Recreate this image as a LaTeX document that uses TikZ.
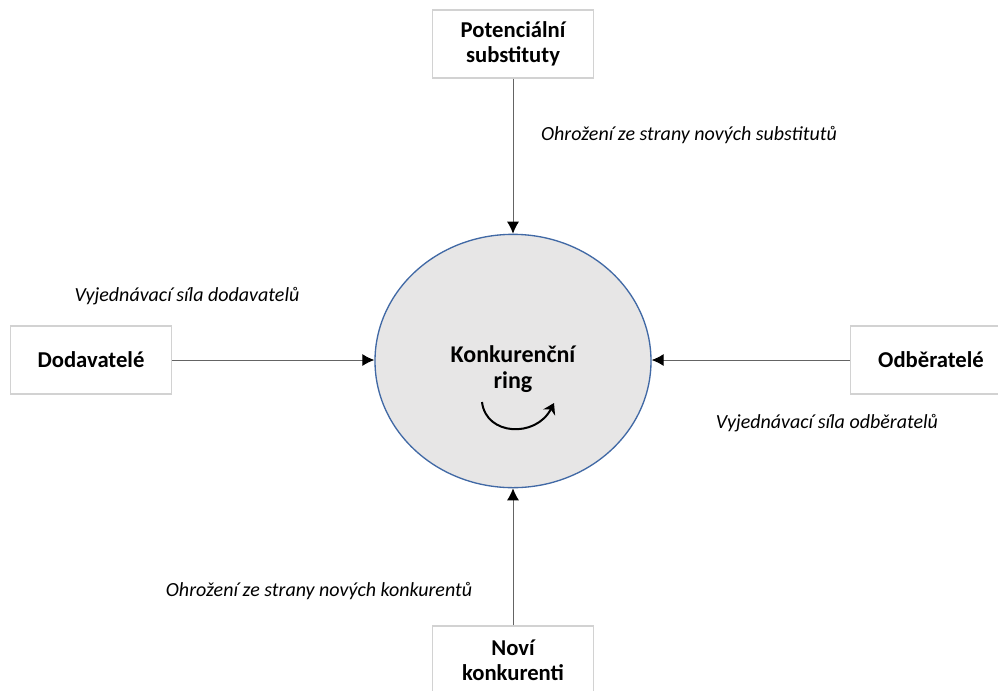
\documentclass[tikz,border=0pt]{standalone}
\usepackage{fontspec}
\setmainfont{Carlito}
\usetikzlibrary{arrows.meta,shapes.geometric}

\definecolor{boxline}{RGB}{210,210,210}
\definecolor{ringfill}{RGB}{231,230,230}
\definecolor{ringline}{RGB}{65,105,165}
\definecolor{connline}{RGB}{100,100,100}

\begin{document}
\begin{tikzpicture}[x=0.75pt,y=-0.75pt,
        force/.style={draw=boxline, fill=white, line width=0.8pt, minimum width=121pt, minimum height=51pt, inner sep=0pt, align=center, font=\fontsize{17}{19}\selectfont\bfseries},
        threat/.style={font=\fontsize{15}{17}\selectfont\itshape},
        push/.style={draw=connline, line width=0.7pt, -{Latex[black,length=9pt,width=9pt]}},
        spin/.style={line width=1.5pt, -{Stealth[length=8pt,width=10pt]}}]
        \useasboundingbox (0,0) rectangle (998,690);

        % Rivalry.
        \node[ellipse, draw=ringline, fill=ringfill, line width=1pt, minimum width=207pt, minimum height=190pt, inner sep=0pt] (ring) at (513,361) {};
        \node[font=\fontsize{18}{20}\selectfont\bfseries, align=center] (ringtxt) at (513,369) {Konkurenční\\ring};
        \coordinate (turnA) at (482,402);
        \coordinate (turnB) at (554,403);
        \draw[spin] (turnA) .. controls (486,436) and (536,438) .. (turnB);

        % Forces.
        \node[force] (subst) at (513,44) {Potenciální\\substituty};
        \node[force] (supp) at (91,360) {Dodavatelé};
        \node[force] (buy) at (931,360) {Odběratelé};
        \node[force] (entr) at (513,660) {Noví\\konkurenti};

        %arrows
        \draw[push] (subst) -- (ring);
        \draw[push] (supp) -- (supp -| ring.west);
        \draw[push] (buy) -- (buy -| ring.east);
        \draw[push] (entr) -- (ring);

        %labels
        \node[threat] (substLbl) at (689,135) {Ohrožení ze strany nových substitutů};
        \node[threat] (suppLbl) at (187,296) {Vyjednávací síla dodavatelů};
        \node[threat] (buyLbl) at (827,423) {Vyjednávací síla odběratelů};
        \node[threat] (entrLbl) at (319,591) {Ohrožení ze strany nových konkurentů};
\end{tikzpicture}
\end{document}
